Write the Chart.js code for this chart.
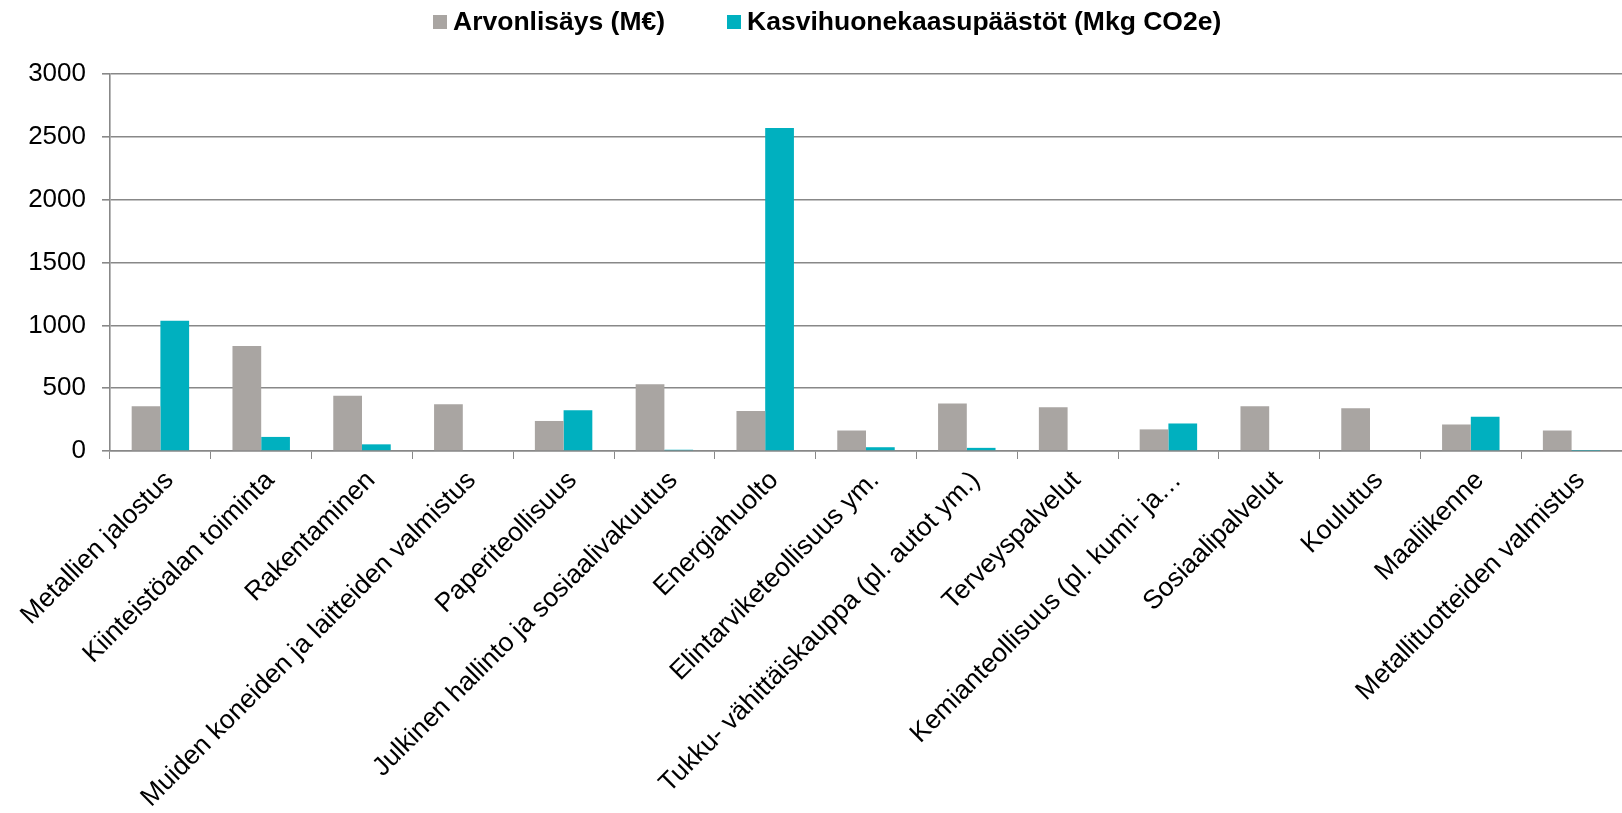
<!DOCTYPE html>
<html lang="fi">
<head>
<meta charset="utf-8">
<title>Arvonlisäys ja kasvihuonekaasupäästöt</title>
<script src="https://cdn.jsdelivr.net/npm/chart.js@4/dist/chart.umd.min.js"></script>
<style>
    html, body { margin: 0; padding: 0; background: #fff; overflow: hidden; }
    #wrap { position: relative; width: 1622px; height: 813px; }
    #legend {
        position: absolute; left: 433px; top: 6px;
        display: flex; align-items: center;
        font: bold 26.5px "Liberation Sans", Arial, sans-serif; color: #000;
    }
    #legend .box { display: inline-block; width: 14px; height: 14px; margin-right: 6px; }
    #legend .item { display: flex; align-items: center; margin-right: 62px; }
</style>
</head>
<body>
<div id="wrap">
    <canvas id="chart"></canvas>
    <div id="legend"></div>
</div>
<script>
const categories = [
    "Metallien jalostus",
    "Kiinteistöalan toiminta",
    "Rakentaminen",
    "Muiden koneiden ja laitteiden valmistus",
    "Paperiteollisuus",
    "Julkinen hallinto ja sosiaalivakuutus",
    "Energiahuolto",
    "Elintarviketeollisuus ym.",
    "Tukku- vähittäiskauppa (pl. autot ym.)",
    "Terveyspalvelut",
    "Kemianteollisuus (pl. kumi- ja…",
    "Sosiaalipalvelut",
    "Koulutus",
    "Maaliikenne",
    "Metallituotteiden valmistus"
];
const seriesNames = ["Arvonlisäys (M€)", "Kasvihuonekaasupäästöt (Mkg CO2e)"];
const arvonlisays = [356, 835, 439, 372, 239, 532, 319, 163, 378, 348, 172, 356, 340, 211, 163];
const paastot = [1037, 112, 53, 0, 325, 10, 2570, 30, 25, 0, 219, 0, 0, 272, 3];
const yTicks = [0, 500, 1000, 1500, 2000, 2500, 3000];

const colors = ["#A9A5A2", "#00B0BF"];
const axisColor = "#888888";
const fontFamily = "'Liberation Sans', Arial, sans-serif";

// legend as html, spacing like the original
const legend = document.getElementById("legend");
seriesNames.forEach(function (name, i) {
    const item = document.createElement("span");
    item.className = "item";
    const box = document.createElement("span");
    box.className = "box";
    box.style.background = colors[i];
    item.appendChild(box);
    item.appendChild(document.createTextNode(name));
    legend.appendChild(item);
});

const ctx = document.getElementById("chart").getContext("2d");
new Chart(ctx, {
    type: "bar",
    data: {
        labels: categories,
        datasets: [
            { label: seriesNames[0], data: arvonlisays, backgroundColor: colors[0] },
            { label: seriesNames[1], data: paastot, backgroundColor: colors[1] }
        ]
    },
    options: {
        responsive: true,
        maintainAspectRatio: false,
        animation: false,
        layout: { padding: { top: 74, left: 28, right: 0, bottom: 0 } },
        datasets: {
            bar: { categoryPercentage: 0.57, barPercentage: 1.0 }
        },
        plugins: {
            legend: { display: false },
            tooltip: { enabled: false }
        },
        scales: {
            x: {
                grid: {
                    drawOnChartArea: false,
                    drawTicks: true,
                    tickLength: 8,
                    color: axisColor
                },
                border: { display: true, color: axisColor, width: 1.6 },
                ticks: {
                    minRotation: 45,
                    maxRotation: 45,
                    autoSkip: false,
                    padding: 6,
                    labelOffset: 9,
                    color: "#000",
                    font: { family: fontFamily, size: 26.5 }
                },
                afterFit: function (scale) { scale.height = 362; }
            },
            y: {
                min: 0,
                max: 3000,
                afterBuildTicks: function (scale) {
                    scale.ticks = yTicks.map(function (v) { return { value: v }; });
                },
                grid: {
                    color: axisColor,
                    lineWidth: 1.6,
                    tickLength: 8
                },
                border: { display: true, color: axisColor, width: 1.6 },
                ticks: {
                    padding: 16,
                    color: "#000",
                    font: { family: fontFamily, size: 26 },
                    callback: function (value) { return String(value); }
                },
                afterFit: function (scale) { scale.width = 82; }
            }
        }
    }
});
</script>
</body>
</html>
